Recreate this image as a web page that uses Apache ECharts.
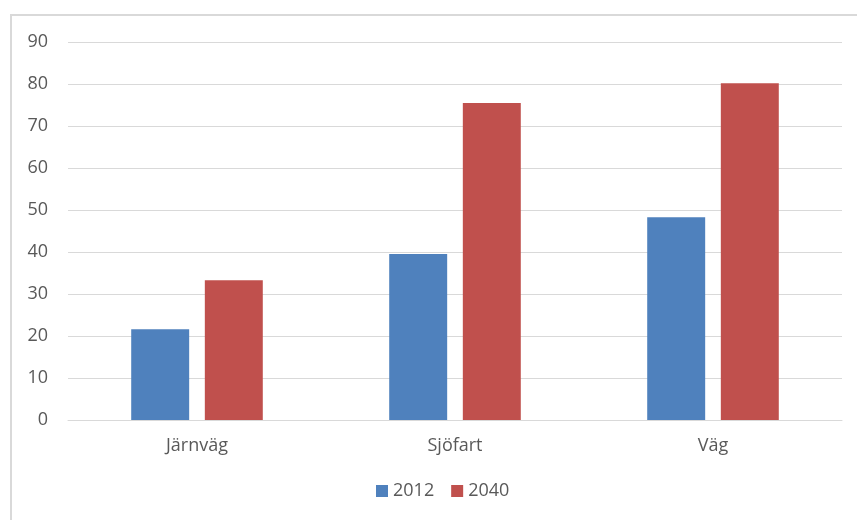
<!DOCTYPE html>
<html>
<head>
<meta charset="utf-8">
<script src="https://cdn.jsdelivr.net/npm/echarts@6/dist/echarts.min.js"></script>
<style>html,body{margin:0;padding:0;background:#fff;}#c{width:857px;height:520px;}</style>
</head>
<body>
<div id="c"></div>
<script>
const categories = ['Järnväg', 'Sjöfart', 'Väg'];
const seriesNames = ['2012', '2040'];
const values2012 = [21.6, 39.5, 48.3];
const values2040 = [33.3, 75.5, 80.2];
const yTicks = [0, 10, 20, 30, 40, 50, 60, 70, 80, 90];

const chart = echarts.init(document.getElementById('c'), null, {renderer: 'canvas'});
const font = 'Open Sans, Noto Sans, sans-serif';
chart.setOption({
  animation: false,
  backgroundColor: '#fff',
  graphic: [{
    type: 'rect',
    shape: {x: 11, y: 15, width: 900, height: 600},
    style: {fill: 'none', stroke: '#d9d9d9', lineWidth: 2},
    silent: true, z: -1
  }],
  grid: {left: 68, right: 15, top: 42, bottom: 100, containLabel: false},
  legend: {
    top: 482, left: 376, padding: 0,
    itemWidth: 12, itemHeight: 12, itemGap: 17,
    icon: 'rect',
    textStyle: {color: '#595959', fontSize: 18, fontFamily: font},
    data: seriesNames
  },
  xAxis: {
    type: 'category', data: categories,
    axisLine: {lineStyle: {color: '#d9d9d9', width: 1}},
    axisTick: {show: false},
    axisLabel: {color: '#595959', fontSize: 18, fontFamily: font, margin: 17}
  },
  yAxis: {
    type: 'value', min: yTicks[0], max: yTicks[yTicks.length - 1], interval: 10,
    axisLine: {show: false}, axisTick: {show: false},
    splitLine: {lineStyle: {color: '#d9d9d9', width: 1}},
    axisLabel: {color: '#595959', fontSize: 18, fontFamily: font, margin: 20}
  },
  series: [
    {name: seriesNames[0], type: 'bar', data: values2012, barGap: '27%', barCategoryGap: '49%',
     itemStyle: {color: '#4f81bd'}},
    {name: seriesNames[1], type: 'bar', data: values2040,
     itemStyle: {color: '#c0504d'}}
  ]
});
</script>
</body>
</html>
